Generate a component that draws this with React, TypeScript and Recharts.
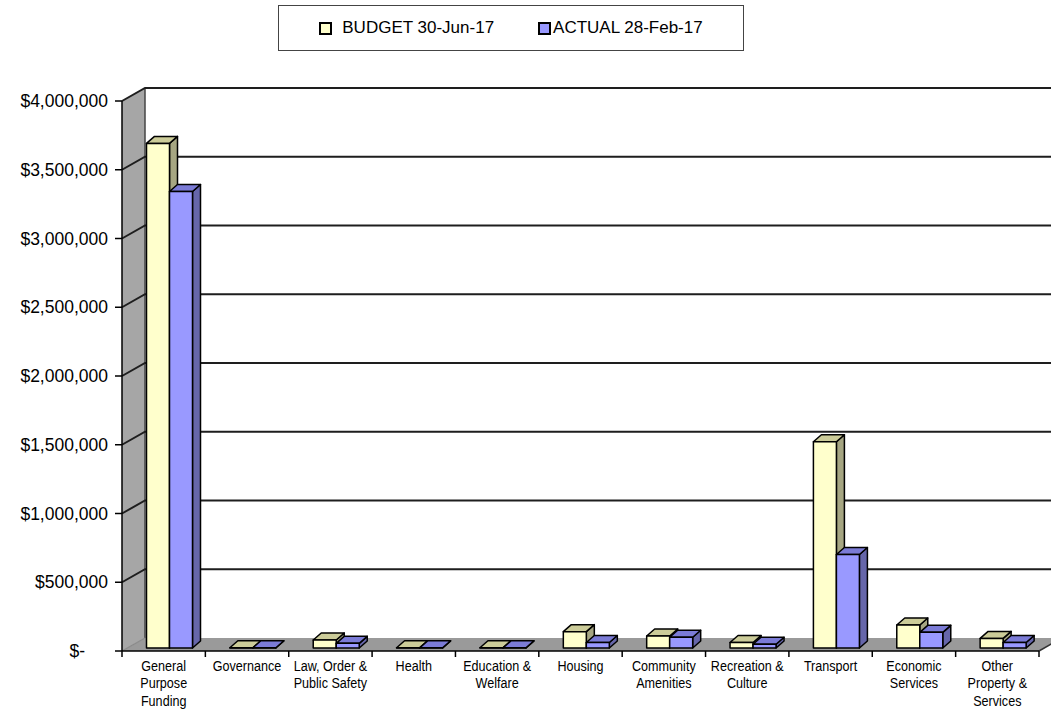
import React from "react";
import { BarChart, Bar, XAxis, YAxis, CartesianGrid } from "recharts";

// Program expenditure by function: budget to year end vs actual to date
const CATEGORIES = [
  "General\nPurpose\nFunding",
  "Governance",
  "Law, Order &\nPublic Safety",
  "Health",
  "Education &\nWelfare",
  "Housing",
  "Community\nAmenities",
  "Recreation &\nCulture",
  "Transport",
  "Economic\nServices",
  "Other\nProperty &\nServices",
];
const BUDGET = [3670000, 2000, 58000, 2000, 2000, 119000, 87000, 40000, 1500000, 167000, 70000];
const ACTUAL = [3320000, 1500, 34000, 1000, 1000, 40000, 78000, 27000, 680000, 114000, 40000];
const Y_TICKS = [0, 500000, 1000000, 1500000, 2000000, 2500000, 3000000, 3500000, 4000000];

const SERIES = [
  { key: "budget", name: "BUDGET 30-Jun-17", front: "#FFFFCC", top: "#CCCC99", side: "#A6A682" },
  { key: "actual", name: "ACTUAL 28-Feb-17", front: "#9999FF", top: "#7B7BD6", side: "#6666AA" },
];

const data = CATEGORIES.map((name, i) => ({ name, budget: BUDGET[i], actual: ACTUAL[i] }));

const W = 1051;
const H = 718;
const MARGIN = { top: 101, right: 12, bottom: 7, left: 0 };
const Y_AXIS_W = 122;
const PLOT_W = W - Y_AXIS_W - MARGIN.right;
const BAND = PLOT_W / CATEGORIES.length;

// oblique depth of the back wall and of each column
const WALL_DX = 23;
const WALL_DY = -13;
const BAR_SHIFT_X = 5.5;
const BAR_SHIFT_Y = -3;
const BAR_DX = 8;
const BAR_DY = -7;

const FONT = "'Liberation Sans', Arial, sans-serif";
const LABEL_SQUEEZE = 0.84;

function Column3D(props: any, colors: { front: string; top: string; side: string }) {
  const { x, y, width, height } = props;
  if (x == null || y == null) return null;
  const fx = x + BAR_SHIFT_X;
  const fy = y + BAR_SHIFT_Y;
  const h = Math.max(height, 0);
  const w = width;
  return (
    <g stroke="#000" strokeWidth={1.5} strokeLinejoin="round">
      <polygon
        points={`${fx + w},${fy} ${fx + w + BAR_DX},${fy + BAR_DY} ${fx + w + BAR_DX},${fy + h + BAR_DY} ${fx + w},${fy + h}`}
        fill={colors.side}
      />
      <polygon
        points={`${fx},${fy} ${fx + BAR_DX},${fy + BAR_DY} ${fx + w + BAR_DX},${fy + BAR_DY} ${fx + w},${fy}`}
        fill={colors.top}
      />
      <rect x={fx} y={fy} width={w} height={h} fill={colors.front} />
    </g>
  );
}

// each horizontal grid line: diagonal across the side wall, then along the back wall
function GridLine3D(props: any) {
  const { x1, y1, x2, index, x, y, width, height } = props;
  const bottom = y + height;
  const isFloor = Math.abs(y1 - bottom) < 0.5;
  return (
    <g key={`grid-${index}`}>
      {index === 0 && (
        <g>
          <polygon
            points={`${x},${y} ${x + WALL_DX},${y + WALL_DY} ${x + WALL_DX},${bottom + WALL_DY} ${x},${bottom}`}
            fill="#A6A6A6"
          />
          <line x1={x + WALL_DX} y1={y + WALL_DY} x2={x + WALL_DX} y2={bottom + WALL_DY} stroke="#444" strokeWidth={1.5} />
          <polygon
            points={`${x},${bottom} ${x + width},${bottom} ${x + width + WALL_DX},${bottom + WALL_DY} ${x + WALL_DX},${bottom + WALL_DY}`}
            fill="#9A9A9A"
          />
          <line x1={x + width} y1={bottom} x2={x + width + WALL_DX} y2={bottom + WALL_DY} stroke="#333" strokeWidth={1.5} />
        </g>
      )}
      {isFloor ? (
        <line x1={x1} y1={y1} x2={x1 + WALL_DX} y2={y1 + WALL_DY} stroke="#8A8A8A" strokeWidth={1.2} />
      ) : (
        <polyline
          points={`${x1},${y1} ${x1 + WALL_DX},${y1 + WALL_DY} ${x2 + WALL_DX},${y1 + WALL_DY}`}
          fill="none"
          stroke="#1E1E1E"
          strokeWidth={2}
        />
      )}
    </g>
  );
}

function MoneyTick(props: any) {
  const { x, y, payload } = props;
  const v = payload.value as number;
  const label = v === 0 ? "$-" : "$" + v.toLocaleString("en-US");
  return (
    <text
      x={v === 0 ? x - 23 : x}
      y={y}
      dy={6}
      textAnchor="end"
      fontFamily={FONT}
      fontSize={17.5}
      fill="#000"
    >
      {label}
    </text>
  );
}

function CategoryTick(props: any) {
  const { x, y, payload, index } = props;
  const lines = String(payload.value).split("\n");
  const half = BAND / 2;
  return (
    <g>
      <line x1={x - half} y1={y} x2={x - half} y2={y + 6} stroke="#000" strokeWidth={1.5} />
      {index === CATEGORIES.length - 1 && (
        <line x1={x + half} y1={y} x2={x + half} y2={y + 6} stroke="#000" strokeWidth={1.5} />
      )}
      {/* condensed labels, squeezed horizontally around the band centre */}
      <g transform={`translate(${x},0) scale(${LABEL_SQUEEZE},1)`}>
        <text
          x={0}
          y={y + 20}
          textAnchor="middle"
          fontFamily={FONT}
          fontSize={15}
          fill="#000"
        >
          {lines.map((ln, i) => (
            <tspan key={i} x={0} dy={i === 0 ? 0 : 17.5}>
              {ln}
            </tspan>
          ))}
        </text>
      </g>
    </g>
  );
}

function LegendBox() {
  return (
    <div
      style={{
        position: "absolute",
        left: 278,
        top: 5,
        width: 464,
        height: 44,
        border: "1px solid #444",
        display: "flex",
        alignItems: "center",
        justifyContent: "center",
        gap: 44,
        fontFamily: FONT,
        fontSize: 17,
        color: "#000",
        background: "#fff",
        boxSizing: "content-box",
      }}
    >
      {SERIES.map((s, i) => (
        <div key={s.key} style={{ display: "flex", alignItems: "center", gap: i === 0 ? 10 : 2 }}>
          <span
            style={{
              display: "inline-block",
              width: 9,
              height: 9,
              border: "2px solid #000",
              background: s.front,
            }}
          />
          <span>{s.name}</span>
        </div>
      ))}
    </div>
  );
}

export default function App() {
  return (
    <div
      style={{
        position: "absolute",
        left: 0,
        top: 0,
        width: W,
        height: H,
        overflow: "hidden",
        background: "#fff",
      }}
    >
      <BarChart
        width={W}
        height={H}
        data={data}
        margin={MARGIN}
        barSize={23}
        barGap={0}
        style={{ position: "absolute", left: 0, top: 0 }}
      >
        <CartesianGrid vertical={false} horizontal={GridLine3D} />
        <XAxis
          dataKey="name"
          interval={0}
          height={60}
          tickSize={0}
          tickMargin={0}
          tickLine={false}
          axisLine={{ stroke: "#000", strokeWidth: 1.5 }}
          tick={CategoryTick}
        />
        <YAxis
          width={Y_AXIS_W}
          domain={[0, 4000000]}
          ticks={Y_TICKS}
          interval={0}
          tickSize={7}
          tickMargin={7}
          axisLine={{ stroke: "#000", strokeWidth: 1.5 }}
          tickLine={{ stroke: "#000", strokeWidth: 1.5 }}
          tick={MoneyTick}
        />
        {SERIES.map((s) => (
          <Bar
            key={s.key}
            dataKey={s.key}
            name={s.name}
            isAnimationActive={false}
            shape={(p: any) => Column3D(p, s)}
          />
        ))}
      </BarChart>
      <LegendBox />
    </div>
  );
}
